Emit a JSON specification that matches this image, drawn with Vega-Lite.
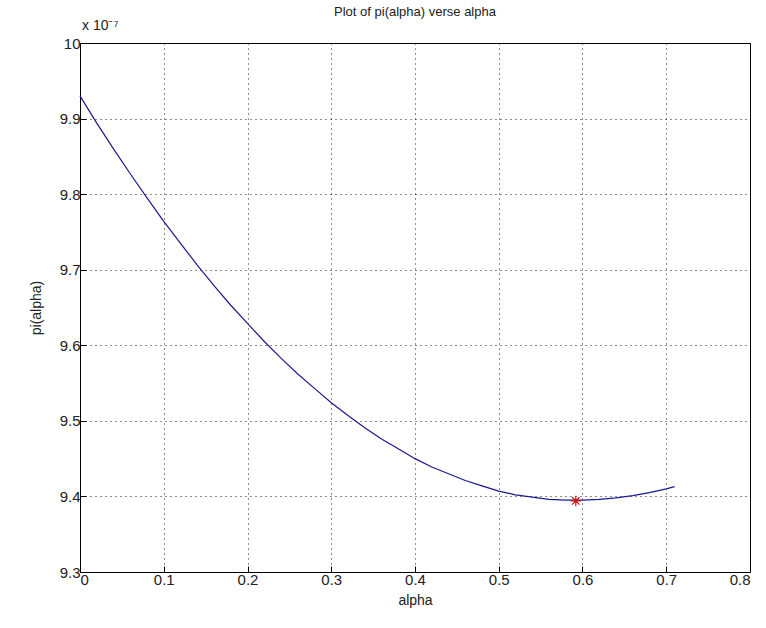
{
  "$schema": "https://vega.github.io/schema/vega-lite/v6.json",
  "width": 670,
  "height": 529,
  "autosize": {"type": "none"},
  "padding": {"left": 80, "top": 43, "right": 16, "bottom": 56},
  "background": "white",
  "config": {
    "font": "Liberation Sans",
    "view": {"stroke": "black", "strokeWidth": 1},
    "axis": {
      "domain": false,
      "grid": true,
      "gridColor": "black",
      "gridDash": [1, 4],
      "gridOpacity": 0.9,
      "ticks": true,
      "tickColor": "black",
      "tickSize": -6,
      "labelFont": "Liberation Sans",
      "labelFontSize": 15,
      "labelColor": "#222",
      "titleFont": "Liberation Sans",
      "titleFontSize": 14,
      "titleFontWeight": "normal",
      "titleColor": "#222"
    },
    "title": {"font": "Liberation Sans", "fontSize": 13, "fontWeight": "normal", "color": "#222"}
  },
  "title": {"text": "Plot of pi(alpha) verse alpha", "anchor": "middle", "offset": 6, "dy": 6, "frame": "group"},
  "datasets": {
    "curve": [
      {"alpha": 0.00, "pi": 9.930},
      {"alpha": 0.02, "pi": 9.894},
      {"alpha": 0.04, "pi": 9.860},
      {"alpha": 0.06, "pi": 9.827},
      {"alpha": 0.08, "pi": 9.795},
      {"alpha": 0.10, "pi": 9.764},
      {"alpha": 0.12, "pi": 9.735},
      {"alpha": 0.14, "pi": 9.706},
      {"alpha": 0.16, "pi": 9.679},
      {"alpha": 0.18, "pi": 9.653},
      {"alpha": 0.20, "pi": 9.629},
      {"alpha": 0.22, "pi": 9.605},
      {"alpha": 0.24, "pi": 9.583},
      {"alpha": 0.26, "pi": 9.562},
      {"alpha": 0.28, "pi": 9.543},
      {"alpha": 0.30, "pi": 9.524},
      {"alpha": 0.32, "pi": 9.507},
      {"alpha": 0.34, "pi": 9.491},
      {"alpha": 0.36, "pi": 9.476},
      {"alpha": 0.38, "pi": 9.463},
      {"alpha": 0.40, "pi": 9.450},
      {"alpha": 0.42, "pi": 9.439},
      {"alpha": 0.44, "pi": 9.430},
      {"alpha": 0.46, "pi": 9.421},
      {"alpha": 0.48, "pi": 9.414},
      {"alpha": 0.50, "pi": 9.407},
      {"alpha": 0.52, "pi": 9.402},
      {"alpha": 0.54, "pi": 9.399},
      {"alpha": 0.56, "pi": 9.396},
      {"alpha": 0.58, "pi": 9.395},
      {"alpha": 0.60, "pi": 9.395},
      {"alpha": 0.62, "pi": 9.396},
      {"alpha": 0.64, "pi": 9.398},
      {"alpha": 0.66, "pi": 9.401},
      {"alpha": 0.68, "pi": 9.405},
      {"alpha": 0.70, "pi": 9.410},
      {"alpha": 0.71, "pi": 9.413}
    ],
    "minpt": [{"alpha": 0.592, "pi": 9.394}],
    "expo": [{"alpha": 0, "pi": 10, "label": "x 10⁻⁷"}]
  },
  "layer": [
    {
      "data": {"name": "curve"},
      "mark": {"type": "line", "color": "#1a1a8e", "strokeWidth": 1.2},
      "encoding": {
        "x": {"field": "alpha", "type": "quantitative", "scale": {"domain": [0, 0.8], "nice": false, "zero": false},
              "axis": {"values": [0, 0.1, 0.2, 0.3, 0.4, 0.5, 0.6, 0.7, 0.8], "format": "~g", "labelPadding": 6, "title": "alpha", "titlePadding": 6}},
        "y": {"field": "pi", "type": "quantitative", "scale": {"domain": [9.3, 10], "nice": false, "zero": false},
              "axis": {"values": [9.3, 9.4, 9.5, 9.6, 9.7, 9.8, 9.9, 10], "format": "~g", "labelPadding": 6, "title": "pi(alpha)", "titlePadding": 16}}
      }
    },
    {
      "data": {"name": "minpt"},
      "mark": {"type": "point", "shape": "M-1,0L1,0M0,-1L0,1M-0.7,-0.7L0.7,0.7M-0.7,0.7L0.7,-0.7", "color": "#d01010", "size": 110, "strokeWidth": 1.2, "filled": false, "opacity": 1},
      "encoding": {
        "x": {"field": "alpha", "type": "quantitative"},
        "y": {"field": "pi", "type": "quantitative"}
      }
    },
    {
      "data": {"name": "expo"},
      "mark": {"type": "text", "align": "left", "baseline": "bottom", "dx": 2, "dy": -10, "fontSize": 14, "color": "#222", "font": "Liberation Sans"},
      "encoding": {
        "x": {"field": "alpha", "type": "quantitative"},
        "y": {"field": "pi", "type": "quantitative"},
        "text": {"field": "label"}
      }
    }
  ]
}
